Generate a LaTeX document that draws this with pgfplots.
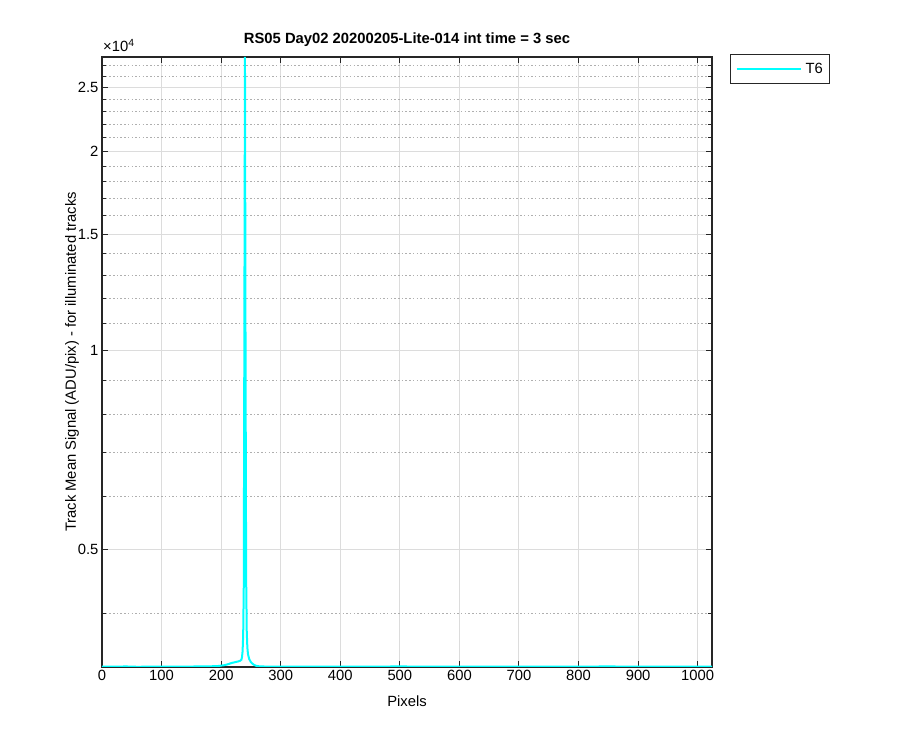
\documentclass[border=0pt]{standalone}
\usepackage{fontspec}
\setmainfont{Liberation Sans}
\usepackage{pgfplots}
\pgfplotsset{compat=1.18}
\definecolor{axgray}{RGB}{38,38,38}
\definecolor{gridmaj}{RGB}{220,220,220}
\definecolor{gridmin}{RGB}{175,175,175}
\newcommand{\fs}{\fontsize{14.8}{17}\selectfont}
\begin{document}
\begin{tikzpicture}
\useasboundingbox (-102pt,-83pt) rectangle (798pt,667pt);
\begin{axis}[
  scale only axis,
  width=610pt, height=610pt,
  ymode=log,
  xmin=0, xmax=1024,
  ymin=3315, ymax=27830,
  xtick={0,100,...,1000},
  ytick={5000,10000,15000,20000,25000},
  yticklabels={0.5,1,1.5,2,2.5},
  minor ytick={4000,6000,7000,8000,9000,11000,12000,13000,14000,16000,17000,18000,19000,21000,22000,23000,24000,26000,27000},
  /pgf/number format/1000 sep={},
  /pgf/number format/assume math mode=true,
  tick label style={font=\fs},
  tick align=inside,
  major tick length=6pt,
  minor tick length=4pt,
  every tick/.style={axgray, line width=1pt},
  axis line style={axgray, line width=1.5pt},
  grid=both,
  major grid style={gridmaj, line width=1pt},
  minor grid style={gridmin, line width=0.9pt, dash pattern=on 1.5pt off 2.2pt},
  xlabel={Pixels},
  ylabel={Track Mean Signal (ADU/pix) - for illuminated tracks},
  label style={font=\fs},
  xlabel style={at={(axis description cs:0.5,-0.0557)}, anchor=center},
  ylabel style={at={(axis description cs:-0.049,0.5)}, anchor=center},
  title={\bfseries RS05 Day02 20200205-Lite-014 int time = 3 sec},
  title style={font=\fs, at={(axis description cs:0.5,1)}, anchor=base, yshift=7pt},
  legend style={at={(1.0295,1.0049)}, anchor=north west, draw=axgray, line width=1.2pt,
    font=\fs, inner xsep=5pt, inner ysep=6.5pt},
  legend image code/.code={\draw[#1] (0pt,0pt) -- (64pt,0pt);},
  legend cell align=left,
]
\addplot[color={rgb,255:red,0;green,255;blue,255}, line width=2pt] coordinates {
(0,3320) (20,3318) (40,3321) (60,3317) (80,3319) (100,3320) (120,3318) (140,3319)
(160,3321) (180,3322) (195,3326) (205,3335) (212,3348) (218,3362) (224,3372)
(229,3380) (232,3388) (234,3400) (235,3430) (236,3500) (237,3700) (238,4400)
(239,11000) (240,27830) (241,9500) (242,4500) (243,3750) (244,3550) (245,3470)
(247,3410) (250,3370) (254,3345) (258,3330) (264,3322) (280,3319) (300,3320)
(350,3318) (400,3320) (450,3319) (500,3321) (550,3318) (600,3320) (650,3319)
(700,3318) (750,3320) (800,3319) (850,3321) (900,3318) (950,3320) (1000,3319) (1024,3320)
};
\addlegendentry{\hspace{2pt}T6}
\end{axis}
\node[anchor=base west, font=\fs, inner sep=0pt] at (1pt,615pt) {×10\textsuperscript{4}};
\end{tikzpicture}
\end{document}
